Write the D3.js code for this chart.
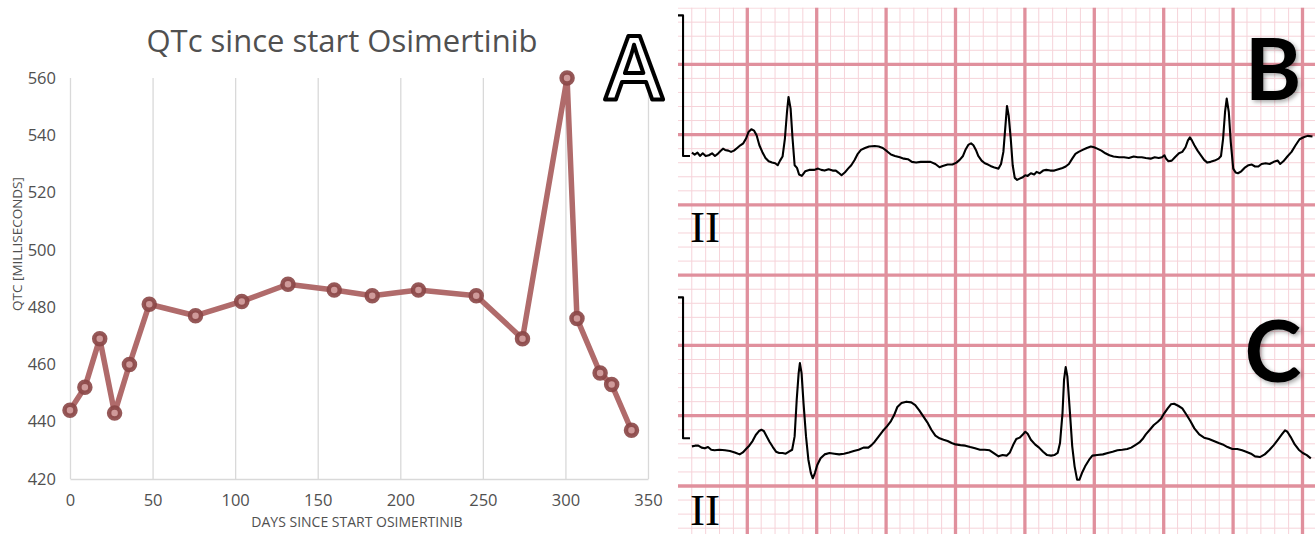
<!DOCTYPE html>
<html>
<head>
<meta charset="utf-8">
<script src="https://cdn.jsdelivr.net/npm/d3@7"></script>
<style>
  body { margin: 0; background: #fff; }
  svg { display: block; }
</style>
</head>
<body>
<div id="chart"></div>
<script>
// Panel A: QTc (ms) per day since start of osimertinib
const days = [0, 9, 18, 27, 36, 48, 76, 104, 132, 160, 183, 211, 246, 274, 301, 307, 321, 328, 340];
const qtc = [444, 452, 469, 443, 460, 481, 477, 482, 488, 486, 484, 486, 484, 469, 560, 476, 457, 453, 437];
const xTicks = [0, 50, 100, 150, 200, 250, 300, 350];
const yTicks = [420, 440, 460, 480, 500, 520, 540, 560];

// Panels B and C: lead II strips, [time in mm, amplitude in mm] (25 mm/s, 10 mm/mV)
const calB = [[0, 8.48], [0.37, 8.48], [0.37, -1.52], [0.87, -1.52]];
const calC = [[0, 8.42], [0.37, 8.42], [0.37, -1.6], [0.87, -1.6]];
const ecgB = [[1.01,-1.28],[1.21,-1.42],[1.41,-1.28],[1.59,-1.52],[1.79,-1.33],[2.00,-1.52],[2.23,-1.47],[2.46,-1.33],[2.67,-1.52],[2.87,-1.37],[3.05,-1.18],[3.25,-1.00],[3.40,-1.09],[3.63,-1.14],[3.83,-1.23],[4.04,-1.14],[4.27,-0.95],[4.50,-0.76],[4.71,-0.62],[4.91,-0.28],[5.09,0.19],[5.29,0.38],[5.49,0.28],[5.67,-0.05],[5.87,-0.76],[6.08,-1.23],[6.31,-1.66],[6.54,-1.90],[6.78,-1.99],[7.01,-2.04],[7.19,-2.18],[7.36,-1.85],[7.54,-1.56],[7.71,-0.28],[7.86,1.61],[7.97,2.68],[8.12,1.85],[8.26,-0.28],[8.41,-2.18],[8.58,-2.37],[8.73,-2.84],[8.93,-2.94],[9.17,-2.61],[9.46,-2.51],[9.81,-2.51],[10.10,-2.42],[10.33,-2.51],[10.57,-2.56],[10.86,-2.46],[11.15,-2.56],[11.38,-2.56],[11.56,-2.70],[11.79,-2.89],[12.02,-2.70],[12.26,-2.42],[12.49,-2.18],[12.72,-1.82],[12.96,-1.37],[13.19,-1.09],[13.48,-0.95],[13.77,-0.85],[14.18,-0.81],[14.47,-0.85],[14.76,-0.95],[15.06,-1.18],[15.35,-1.42],[15.64,-1.52],[15.99,-1.61],[16.28,-1.71],[16.57,-1.75],[16.86,-1.94],[17.16,-1.99],[17.50,-1.94],[17.85,-1.94],[18.20,-1.94],[18.55,-2.09],[18.85,-2.32],[19.08,-2.23],[19.43,-2.13],[19.78,-2.13],[20.07,-1.99],[20.30,-1.80],[20.54,-1.52],[20.74,-1.04],[20.94,-0.71],[21.12,-0.62],[21.29,-0.76],[21.47,-1.09],[21.64,-1.52],[21.88,-1.85],[22.11,-2.04],[22.34,-2.13],[22.52,-2.23],[22.75,-2.32],[22.93,-2.37],[23.10,-2.42],[23.28,-2.09],[23.45,-1.23],[23.60,0.66],[23.71,2.04],[23.83,1.37],[23.98,-0.28],[24.12,-2.18],[24.27,-3.08],[24.44,-3.22],[24.62,-3.13],[24.85,-3.03],[25.03,-2.89],[25.20,-2.94],[25.43,-2.75],[25.67,-2.84],[25.84,-2.65],[26.07,-2.75],[26.31,-2.56],[26.54,-2.51],[26.83,-2.56],[27.12,-2.56],[27.42,-2.46],[27.71,-2.37],[27.94,-2.27],[28.17,-2.09],[28.41,-1.71],[28.64,-1.37],[28.87,-1.23],[29.16,-1.09],[29.46,-0.95],[29.75,-0.85],[29.98,-0.90],[30.21,-1.00],[30.51,-1.14],[30.80,-1.33],[31.09,-1.47],[31.38,-1.56],[31.79,-1.61],[32.14,-1.61],[32.49,-1.66],[32.84,-1.56],[33.13,-1.61],[33.42,-1.61],[33.71,-1.66],[34.06,-1.71],[34.35,-1.61],[34.64,-1.66],[34.88,-1.61],[35.05,-1.47],[35.17,-1.71],[35.34,-1.90],[35.58,-1.85],[35.81,-1.61],[36.10,-1.33],[36.34,-1.23],[36.57,-0.90],[36.74,-0.43],[36.89,-0.19],[37.04,-0.43],[37.21,-0.76],[37.44,-1.14],[37.68,-1.47],[37.91,-1.80],[38.14,-1.99],[38.38,-1.94],[38.67,-1.85],[38.96,-1.71],[39.13,-1.52],[39.28,-0.28],[39.42,1.61],[39.54,2.56],[39.69,1.61],[39.83,-0.52],[40.01,-2.42],[40.18,-2.70],[40.35,-2.75],[40.59,-2.61],[40.82,-2.37],[41.11,-2.18],[41.35,-2.13],[41.58,-2.27],[41.82,-2.27],[42.05,-2.09],[42.34,-2.04],[42.63,-2.09],[42.93,-1.94],[43.22,-1.85],[43.39,-2.09],[43.62,-1.90],[43.91,-1.56],[44.21,-1.23],[44.50,-0.76],[44.79,-0.33],[45.08,-0.19],[45.37,-0.09],[45.72,-0.14]];
const ecgC = [[1.01,-2.18],[1.24,-2.13],[1.47,-2.13],[1.71,-2.27],[1.94,-2.32],[2.17,-2.23],[2.40,-2.42],[2.64,-2.46],[2.99,-2.42],[3.40,-2.46],[3.75,-2.51],[4.10,-2.61],[4.45,-2.75],[4.68,-2.61],[4.91,-2.37],[5.14,-2.13],[5.38,-1.80],[5.61,-1.37],[5.84,-1.09],[6.02,-1.00],[6.19,-1.09],[6.37,-1.42],[6.60,-1.85],[6.84,-2.23],[7.07,-2.56],[7.30,-2.65],[7.54,-2.65],[7.77,-2.70],[8.00,-2.56],[8.23,-2.42],[8.41,-1.47],[8.56,1.14],[8.70,3.03],[8.79,3.74],[8.91,3.03],[9.05,0.90],[9.23,-1.47],[9.40,-3.13],[9.58,-4.08],[9.72,-4.45],[9.87,-4.08],[10.04,-3.51],[10.28,-3.03],[10.57,-2.75],[10.92,-2.65],[11.27,-2.70],[11.62,-2.75],[11.97,-2.70],[12.32,-2.61],[12.67,-2.51],[13.02,-2.42],[13.37,-2.27],[13.72,-2.27],[13.95,-2.09],[14.18,-1.85],[14.47,-1.47],[14.76,-1.09],[15.06,-0.76],[15.35,-0.38],[15.58,0.05],[15.81,0.62],[16.11,0.90],[16.46,1.00],[16.81,0.95],[17.10,0.76],[17.39,0.38],[17.68,-0.05],[17.97,-0.47],[18.26,-1.00],[18.55,-1.42],[18.85,-1.61],[19.14,-1.71],[19.43,-1.80],[19.72,-1.94],[20.01,-2.04],[20.36,-2.09],[20.71,-2.13],[21.06,-2.23],[21.41,-2.32],[21.76,-2.42],[22.11,-2.42],[22.46,-2.46],[22.81,-2.70],[23.10,-2.89],[23.39,-2.80],[23.68,-2.84],[23.92,-2.61],[24.15,-2.09],[24.38,-1.66],[24.62,-1.56],[24.85,-1.33],[25.03,-1.14],[25.20,-1.28],[25.43,-1.71],[25.73,-2.04],[26.02,-2.27],[26.31,-2.56],[26.60,-2.80],[26.89,-2.84],[27.12,-2.80],[27.36,-2.65],[27.53,-1.94],[27.71,0.19],[27.82,2.56],[27.94,3.46],[28.06,2.80],[28.23,0.43],[28.41,-2.18],[28.58,-3.60],[28.76,-4.55],[28.93,-4.55],[29.11,-4.08],[29.34,-3.60],[29.63,-3.13],[29.86,-2.84],[30.21,-2.80],[30.62,-2.75],[30.97,-2.65],[31.32,-2.56],[31.67,-2.46],[32.02,-2.42],[32.37,-2.37],[32.66,-2.27],[32.95,-2.09],[33.25,-1.90],[33.48,-1.66],[33.71,-1.33],[34.00,-1.00],[34.29,-0.66],[34.58,-0.43],[34.82,-0.19],[35.05,0.19],[35.29,0.52],[35.52,0.81],[35.75,0.85],[36.04,0.71],[36.34,0.52],[36.63,0.09],[36.92,-0.38],[37.21,-0.90],[37.56,-1.33],[37.91,-1.56],[38.26,-1.66],[38.61,-1.80],[38.96,-1.94],[39.25,-2.04],[39.60,-2.23],[39.95,-2.37],[40.30,-2.37],[40.65,-2.46],[40.94,-2.56],[41.29,-2.70],[41.58,-2.89],[41.93,-2.94],[42.28,-2.75],[42.63,-2.42],[42.93,-2.09],[43.22,-1.71],[43.51,-1.33],[43.74,-1.04],[43.91,-1.14],[44.15,-1.52],[44.44,-2.04],[44.73,-2.42],[45.02,-2.65],[45.31,-2.80],[45.60,-3.03]];

const width = 1315, height = 534;
const svg = d3.select("#chart").append("svg")
  .attr("width", width)
  .attr("height", height);

svg.append("rect").attr("width", width).attr("height", height).attr("fill", "#fff");

const defs = svg.append("defs");
defs.append("filter").attr("id", "shadow")
  .attr("x", "-20%").attr("y", "-20%").attr("width", "150%").attr("height", "150%")
  .append("feDropShadow")
  .attr("dx", 2).attr("dy", 2).attr("stdDeviation", 2)
  .attr("flood-color", "#000").attr("flood-opacity", 0.35);

// ---------- Panel A ----------
const x = d3.scaleLinear().domain([0, 350]).range([70, 648]);
const y = d3.scaleLinear().domain([420, 560]).range([479, 78]);
const textColor = "#505050";
const font = "'Open Sans', sans-serif";

const gx = svg.append("g")
  .attr("transform", `translate(0,${y(420)})`)
  .call(d3.axisBottom(x).tickValues(xTicks).tickSize(-(y(420) - y(560))).tickSizeOuter(0).tickPadding(15));
gx.select(".domain").attr("stroke", "#d9d9d9").attr("stroke-width", 1.3);
gx.selectAll(".tick line").attr("stroke", "#d9d9d9").attr("stroke-width", 1.3);
gx.selectAll(".tick text").attr("fill", textColor).style("font", `16.5px ${font}`);

const gy = svg.append("g")
  .attr("transform", `translate(${x(0)},0)`)
  .call(d3.axisLeft(y).tickValues(yTicks).tickSize(0).tickPadding(14));
gy.select(".domain").remove();
gy.selectAll(".tick text").attr("fill", textColor).style("font", `16.5px ${font}`);

svg.append("text")
  .attr("x", 342).attr("y", 52)
  .attr("text-anchor", "middle")
  .attr("fill", textColor)
  .style("font", `31px ${font}`)
  .text("QTc since start Osimertinib");

svg.append("text")
  .attr("x", (x(0) + x(350)) / 2 - 2).attr("y", 527)
  .attr("text-anchor", "middle")
  .attr("fill", textColor)
  .style("font", `14px ${font}`)
  .text("DAYS SINCE START OSIMERTINIB");

svg.append("text")
  .attr("transform", "translate(22,244) rotate(-90)")
  .attr("text-anchor", "middle")
  .attr("fill", textColor)
  .style("font", `13.5px ${font}`)
  .text("QTC [MILLISECONDS]");

const series = days.map((d, i) => ({ day: d, qtc: qtc[i] }));
svg.append("path")
  .datum(series)
  .attr("fill", "none")
  .attr("stroke", "#b06b6b")
  .attr("stroke-width", 5.5)
  .attr("stroke-linejoin", "round")
  .attr("d", d3.line().x(d => x(d.day)).y(d => y(d.qtc)));

svg.append("g").selectAll("circle")
  .data(series)
  .join("circle")
  .attr("cx", d => x(d.day))
  .attr("cy", d => y(d.qtc))
  .attr("r", 5.5)
  .attr("fill", "#cf9a9a")
  .attr("stroke", "#8a4646")
  .attr("stroke-opacity", 0.9)
  .attr("stroke-width", 4.5);

svg.append("text")
  .attr("x", 634).attr("y", 100)
  .attr("text-anchor", "middle")
  .attr("fill", "#fff")
  .attr("stroke", "#000")
  .attr("stroke-width", 4)
  .attr("stroke-linejoin", "round")
  .style("font", `600 88px ${font}`)
  .text("A");

// ---------- Panels B and C (ECG grid) ----------
const gridLeft = 678, gridTop = 7.5;
const t = d3.scaleLinear().domain([0, 46]).range([677.9, 677.9 + 46 * 13.88]);
const g = d3.scaleLinear().domain([0, 38]).range([8.1, 8.1 + 38 * 14.056]);
const yB = v => g(9 - v);
const yC = v => g(29 - v);

defs.append("clipPath").attr("id", "ecgclip")
  .append("rect")
  .attr("x", gridLeft).attr("y", gridTop)
  .attr("width", width - gridLeft).attr("height", height - gridTop);

const ecg = svg.append("g").attr("clip-path", "url(#ecgclip)");
const minorColor = "#f6d3d9", majorColor = "#e0909d";

const vCols = d3.range(1, 47);
const hRows = d3.range(0, 38);

ecg.append("g").selectAll("line.vminor")
  .data(vCols.filter(k => k % 5 !== 0))
  .join("line")
  .attr("x1", k => t(k)).attr("x2", k => t(k))
  .attr("y1", gridTop).attr("y2", height)
  .attr("stroke", minorColor).attr("stroke-width", 1);

ecg.append("g").selectAll("line.hminor")
  .data(hRows.filter(k => (k - 4) % 5 !== 0))
  .join("line")
  .attr("x1", gridLeft).attr("x2", width)
  .attr("y1", k => g(k)).attr("y2", k => g(k))
  .attr("stroke", minorColor).attr("stroke-width", 1);

ecg.append("g").selectAll("line.vmajor")
  .data(vCols.filter(k => k % 5 === 0))
  .join("line")
  .attr("x1", k => t(k)).attr("x2", k => t(k))
  .attr("y1", gridTop).attr("y2", height)
  .attr("stroke", majorColor).attr("stroke-width", 3.3);

ecg.append("g").selectAll("line.hmajor")
  .data(hRows.filter(k => (k - 4) % 5 === 0))
  .join("line")
  .attr("x1", gridLeft).attr("x2", width)
  .attr("y1", k => g(k)).attr("y2", k => g(k))
  .attr("stroke", majorColor).attr("stroke-width", 3.3);

const traceB = d3.line().x(d => t(d[0])).y(d => yB(d[1]));
const traceC = d3.line().x(d => t(d[0])).y(d => yC(d[1]));

[[calB, traceB], [ecgB, traceB], [calC, traceC], [ecgC, traceC]].forEach(([data, gen]) => {
  ecg.append("path")
    .datum(data)
    .attr("fill", "none")
    .attr("stroke", "#000")
    .attr("stroke-width", 2.1)
    .attr("stroke-linejoin", "round")
    .attr("d", gen);
});

// lead labels
[242, 525].forEach(yy => {
  svg.append("text")
    .attr("x", 690).attr("y", yy)
    .attr("fill", "#000")
    .style("font", "45px 'Liberation Serif', serif")
    .text("II");
});

// panel letters
[["B", 100], ["C", 382]].forEach(([letter, yy]) => {
  svg.append("text")
    .attr("x", 1273).attr("y", yy)
    .attr("text-anchor", "middle")
    .attr("fill", "#000")
    .attr("filter", "url(#shadow)")
    .style("font", `700 86px Lato, sans-serif`)
    .text(letter);
});
</script>
</body>
</html>
